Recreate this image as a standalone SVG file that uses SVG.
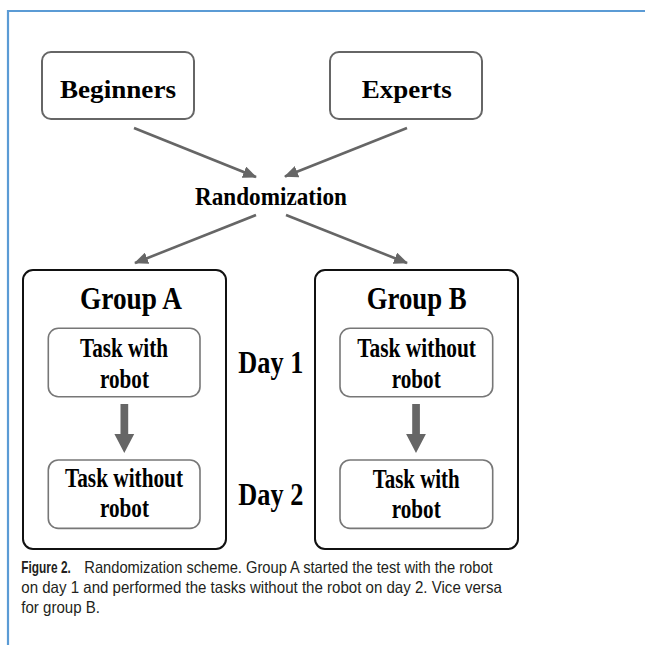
<svg xmlns="http://www.w3.org/2000/svg" width="645" height="645" viewBox="0 0 645 645">
<style>
.frame{stroke:#5b9bd5;stroke-width:2.2;fill:none}
.top{fill:#fff;stroke:#666;stroke-width:2}
.grp{fill:#fff;stroke:#111;stroke-width:2}
.inner{fill:#fff;stroke:#777;stroke-width:1.6}
.t{font-family:"Liberation Serif","Times New Roman",serif;font-weight:bold;fill:#000}
.cap{font-family:"Liberation Sans",Arial,sans-serif;font-size:16.5px;fill:#231f20}
.conn{stroke:#666;stroke-width:2.6;fill:none}
.fat{fill:#666}
</style>
<defs>
<marker id="ah" markerUnits="userSpaceOnUse" markerWidth="14" markerHeight="12" refX="13" refY="6" orient="auto">
<path d="M0,0 L14,6 L0,12 z" fill="#666"/>
</marker>
</defs>
<rect width="645" height="645" fill="#fff"/>
<path class="frame" d="M8,645 V11 H645"/>

<g id="beginners">
<rect class="top" x="42" y="52" width="152" height="67" rx="9"/>
<text class="t" x="60" y="97.5" font-size="25.5" textLength="116" lengthAdjust="spacingAndGlyphs">Beginners</text>
</g>
<g id="experts">
<rect class="top" x="330" y="52" width="152" height="67" rx="9"/>
<text class="t" x="361.7" y="97.5" font-size="25.5" textLength="90" lengthAdjust="spacingAndGlyphs">Experts</text>
</g>
<g id="randomization">
<text class="t" x="195" y="205" font-size="25.5" textLength="152" lengthAdjust="spacingAndGlyphs">Randomization</text>
</g>

<g id="groupA">
<rect class="grp" x="23" y="270" width="203" height="279" rx="10"/>
<text class="t" x="80" y="309" font-size="31" textLength="102" lengthAdjust="spacingAndGlyphs">Group A</text>
</g>
<g id="groupB">
<rect class="grp" x="315" y="270" width="203" height="279" rx="10"/>
<text class="t" x="366.7" y="309" font-size="31" textLength="100" lengthAdjust="spacingAndGlyphs">Group B</text>
</g>

<g id="a-day1">
<rect class="inner" x="48.3" y="328.3" width="151.7" height="68.4" rx="10"/>
<text class="t" x="80" y="357" font-size="26.5" textLength="88" lengthAdjust="spacingAndGlyphs">Task with</text>
<text class="t" x="100" y="388" font-size="26.5" textLength="49" lengthAdjust="spacingAndGlyphs">robot</text>
</g>
<g id="a-day2">
<rect class="inner" x="48.3" y="460" width="151.7" height="68.4" rx="10"/>
<text class="t" x="65" y="486.5" font-size="26.5" textLength="118" lengthAdjust="spacingAndGlyphs">Task without</text>
<text class="t" x="100" y="517" font-size="26.5" textLength="49" lengthAdjust="spacingAndGlyphs">robot</text>
</g>
<g id="b-day1">
<rect class="inner" x="340" y="328.3" width="152.7" height="68.4" rx="10"/>
<text class="t" x="357.3" y="357" font-size="26.5" textLength="118.7" lengthAdjust="spacingAndGlyphs">Task without</text>
<text class="t" x="391.7" y="388" font-size="26.5" textLength="49" lengthAdjust="spacingAndGlyphs">robot</text>
</g>
<g id="b-day2">
<rect class="inner" x="340" y="460" width="152.7" height="68.4" rx="10"/>
<text class="t" x="372.7" y="487.5" font-size="26.5" textLength="87" lengthAdjust="spacingAndGlyphs">Task with</text>
<text class="t" x="391.7" y="518" font-size="26.5" textLength="49" lengthAdjust="spacingAndGlyphs">robot</text>
</g>

<g id="day1">
<text class="t" x="238.3" y="373.3" font-size="32" textLength="65" lengthAdjust="spacingAndGlyphs">Day 1</text>
</g>
<g id="day2">
<text class="t" x="238.3" y="505" font-size="32" textLength="65" lengthAdjust="spacingAndGlyphs">Day 2</text>
</g>

<g id="connectors">
<line class="conn" x1="134" y1="128" x2="256" y2="177" marker-end="url(#ah)"/>
<line class="conn" x1="407" y1="128" x2="285" y2="176.5" marker-end="url(#ah)"/>
<line class="conn" x1="256" y1="215" x2="135" y2="263" marker-end="url(#ah)"/>
<line class="conn" x1="286" y1="215" x2="407" y2="263" marker-end="url(#ah)"/>
<polygon class="fat" points="120.5,404 128.2,404 128.2,434 134.2,434 124.3,453 114.4,434 120.5,434"/>
<polygon class="fat" points="412.2,404 419.9,404 419.9,434 425.9,434 416,453 406.1,434 412.2,434"/>
</g>

<g id="caption">
<text class="cap" x="21.3" y="573" font-weight="bold" textLength="49.5" lengthAdjust="spacingAndGlyphs">Figure 2.</text>
<text class="cap" x="84.3" y="573" textLength="408.4" lengthAdjust="spacingAndGlyphs">Randomization scheme. Group A started the test with the robot</text>
<text class="cap" x="21.3" y="593" textLength="480.5" lengthAdjust="spacingAndGlyphs">on day 1 and performed the tasks without the robot on day 2. Vice versa</text>
<text class="cap" x="21.3" y="613" textLength="78.7" lengthAdjust="spacingAndGlyphs">for group B.</text>
</g>
</svg>
